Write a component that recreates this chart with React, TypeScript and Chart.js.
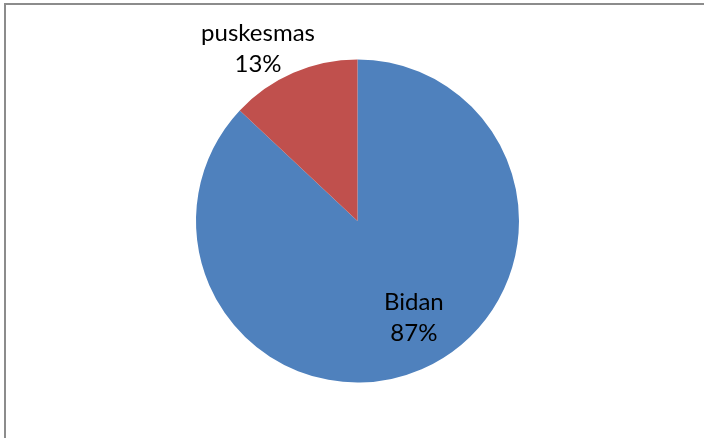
import React, { useEffect, useRef } from "react";
import { Chart, registerables } from "chart.js";

Chart.register(...registerables);

const categories = ["Bidan", "puskesmas"];
const values = [87, 13];
const percentLabels = ["87%", "13%"];
const colors = ["#4F81BD", "#C0504D"];

const labelPlugin = {
  id: "sliceLabels",
  afterDatasetsDraw(chart: any) {
    const meta = chart.getDatasetMeta(0);
    const ctx = chart.ctx;
    ctx.save();
    ctx.fillStyle = "#000";
    ctx.font = "24px Lato, 'Open Sans', sans-serif";
    ctx.textAlign = "center";
    ctx.textBaseline = "alphabetic";
    meta.data.forEach((arc: any, i: number) => {
      const { x, y, startAngle, endAngle, outerRadius } = arc.getProps(
        ["x", "y", "startAngle", "endAngle", "outerRadius"],
        true
      );
      const mid = (startAngle + endAngle) / 2;
      const inside = i === 0;
      const dist = inside ? outerRadius * 0.645 : outerRadius * 1.27;
      let cx = x + Math.cos(mid) * dist + (inside ? 15 : -18);
      let cy = y + Math.sin(mid) * dist + (inside ? -7 : 8);
      ctx.fillText(categories[i], cx, cy);
      ctx.fillText(percentLabels[i], cx, cy + 31.5);
    });
    ctx.restore();
  },
};

export default function App() {
  const ref = useRef<HTMLCanvasElement>(null);
  useEffect(() => {
    document.body.style.margin = "0";
    const chart = new Chart(ref.current!, {
      type: "pie",
      data: {
        labels: categories,
        datasets: [
          {
            data: values,
            backgroundColor: colors,
            borderWidth: 0,
          },
        ],
      },
      options: {
        responsive: false,
        animation: false,
        layout: { padding: { top: 59.5, bottom: 55.5, left: 196, right: 185 } },
        plugins: {
          legend: { display: false },
          tooltip: { enabled: false },
        },
      },
      plugins: [labelPlugin],
    });
    return () => chart.destroy();
  }, []);
  return (
    <div style={{ position: "relative", width: 704, height: 438, background: "#fff", overflow: "hidden" }}>
      <div
        style={{
          position: "absolute",
          left: 4,
          top: 3,
          right: 0,
          bottom: 0,
          borderLeft: "2px solid #8c8c8c",
          borderTop: "2px solid #8c8c8c",
        }}
      />
      <canvas ref={ref} width={704} height={438} style={{ position: "absolute", left: 0, top: 0 }} />
    </div>
  );
}
